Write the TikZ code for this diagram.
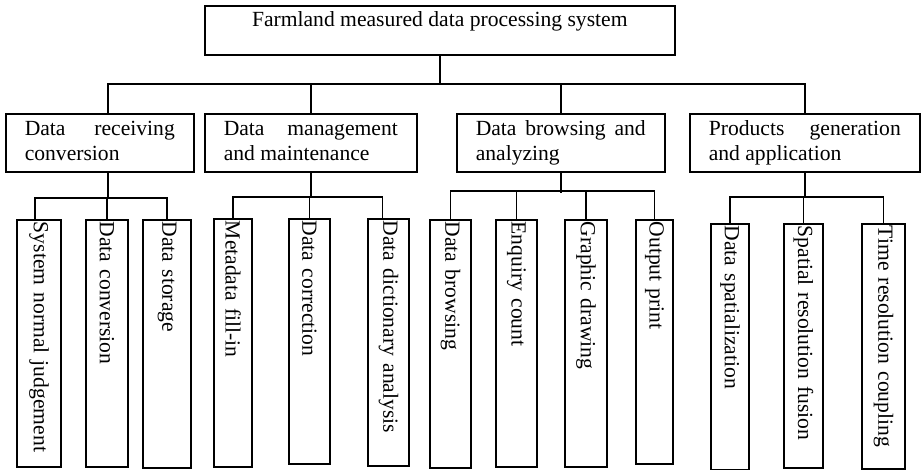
\documentclass[tikz,border=0pt]{standalone}
\usepackage{fontspec}
\setmainfont{Liberation Serif}
\hyphenpenalty=10000
\tolerance=10000
\tikzset{
  groupbox/.style={draw, anchor=north west, inner xsep=9.5pt, inner ysep=0pt,
    align=justify, text height=11pt, text depth=18pt},
  leafbox/.style={draw, rotate=-90, anchor=west, inner xsep=1pt, inner ysep=0pt, align=left}
}
\begin{document}
\begin{tikzpicture}[x=0.5pt, y=-0.5pt, thick, font=\fontsize{10.8}{12.4}\selectfont]
  \useasboundingbox (0,0) rectangle (921,470);
  % top level
  \node[draw, anchor=north west, minimum width=235pt, inner sep=0pt,
    text height=10.5pt, text depth=14pt] (top) at (204,5) {Farmland measured data processing system};
  % second level
  \node[groupbox, text width=75pt] (recv) at (5,113) {Data receiving conversion};
  \node[groupbox, text width=87pt] (manage) at (204,113) {Data management and maintenance};
  \node[groupbox, text width=85pt] (browse) at (456,113) {Data browsing and analyzing};
  \node[groupbox, text width=96pt] (product) at (689,113) {Products generation and application};
  % leaves
  \node[leafbox, text width=121.5pt, minimum height=22pt] (judge) at (39,219) {System normal judgement};
  \node[leafbox, text width=121.5pt, minimum height=21pt] (conv) at (107,219) {Data conversion};
  \node[leafbox, text width=122pt, minimum height=24pt] (store) at (167,219) {Data storage};
  \node[leafbox, text width=122pt, minimum height=19pt] (meta) at (233,218) {Metadata fill-in};
  \node[leafbox, text width=120.5pt, minimum height=20.5pt] (correct) at (309.5,218) {Data correction};
  \node[leafbox, text width=121.5pt, minimum height=20.5pt] (dict) at (388.5,218) {Data dictionary analysis};
  \node[leafbox, text width=122pt, minimum height=20.5pt] (dbrowse) at (450.5,219) {Data browsing};
  \node[leafbox, text width=121.5pt, minimum height=20.5pt] (enquiry) at (516.5,219) {Enquiry count};
  \node[leafbox, text width=121.5pt, minimum height=21pt] (graphic) at (586,219) {Graphic drawing};
  \node[leafbox, text width=120pt, minimum height=18.5pt] (print) at (654.5,219) {Output print};
  \node[leafbox, text width=121pt, minimum height=19pt] (spat) at (730,223) {Data spatialization};
  \node[leafbox, text width=120pt, minimum height=19.5pt] (fusion) at (803.5,223) {Spatial resolution fusion};
  \node[leafbox, text width=120.5pt, minimum height=21.5pt] (coupling) at (883.5,223) {Time resolution coupling};
  % bus lines
  \coordinate (bus0) at (0,84);
  \coordinate (bus1) at (0,198);
  \coordinate (bus2) at (0,197);
  \coordinate (bus3) at (0,191);
  \coordinate (bus4) at (0,197);
  \draw (top.south) -- (top.south |- bus0);
  \draw ([xshift=4pt]recv.north) |- (product.north |- bus0) -- (product.north);
  \draw (manage.north) -- (manage.north |- bus0);
  \draw (browse.north) -- (browse.north |- bus0);
  % receiving
  \draw ([xshift=4pt]recv.south) -- ([xshift=4pt]recv.south |- bus1);
  \draw ([xshift=-2pt]judge.west) |- (store.west |- bus1) -- (store.west);
  \draw (conv.west) -- (conv.west |- bus1);
  % management
  \draw (manage.south) -- (manage.south |- bus2);
  \draw (meta.west) |- ([xshift=-3pt]dict.west |- bus2) -- ([xshift=-3pt]dict.west);
  \draw (correct.west) -- (correct.west |- bus2);
  % browsing
  \draw (browse.south) -- ([yshift=-1pt]browse.south |- bus3);
  \draw (dbrowse.west) |- (print.west |- bus3) -- (print.west);
  \draw (enquiry.west) -- (enquiry.west |- bus3);
  \draw (graphic.west) -- (graphic.west |- bus3);
  % products
  \draw (product.south) -- (product.south |- bus4);
  \draw (spat.west) |- (coupling.west |- bus4) -- (coupling.west);
  \draw (fusion.west) -- (fusion.west |- bus4);
\end{tikzpicture}
\end{document}
